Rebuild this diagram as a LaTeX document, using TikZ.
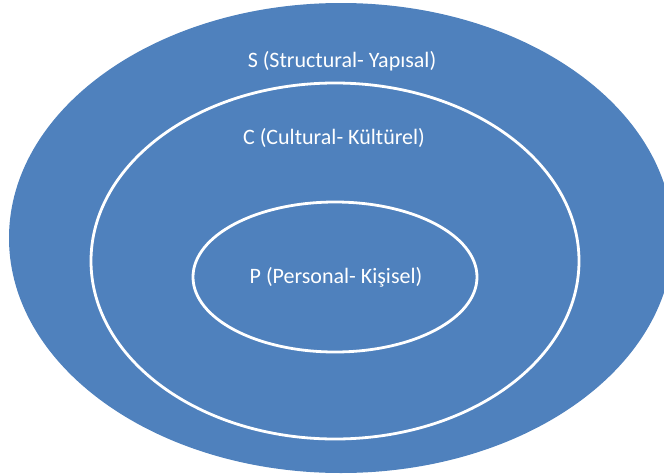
\documentclass[tikz,border=0pt]{standalone}
\usepackage{fontspec}
\setmainfont{Carlito}
\usepackage{tikz}
\definecolor{azul}{RGB}{79,129,189}

\begin{document}
\begin{tikzpicture}[x=1pt,y=-1pt]
		\useasboundingbox (0,0) rectangle (664,474);
		\clip (0,0) rectangle (664,474);
		
		% Elipse externa (S)
		\fill[azul] (341,238) ellipse (332 and 235);
		
		% Elipses internas (C e P)
		\draw[white, line width=2.8pt] (335,261) ellipse (244 and 178);
		\draw[white, line width=2.8pt] (335,277) ellipse (142 and 75);
		
		% Textos
		\node[text=white, font=\fontsize{22}{26}\selectfont] (estrutural) at (342,61) {S (Structural- Yapısal)};
		\node[text=white, font=\fontsize{22}{26}\selectfont] (cultural) at (334,138) {C (Cultural- Kültürel)};
		\node[text=white, font=\fontsize{22}{26}\selectfont] (pessoal) at (336,277) {P (Personal- Kişisel)};

	\end{tikzpicture}
\end{document}
